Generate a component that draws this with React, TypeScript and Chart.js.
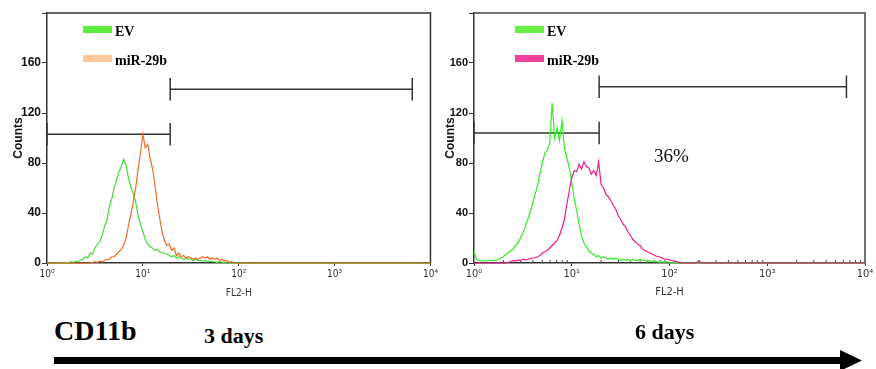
import React, { useEffect, useRef } from 'react';
import { Chart, registerables } from 'chart.js';
Chart.register(...registerables);

// FL2-H channel positions, in decades (log10 of fluorescence)
const channelLog = [
  0, 0.025, 0.05, 0.075, 0.1, 0.125, 0.15, 0.175, 0.2, 0.225,
  0.25, 0.275, 0.3, 0.325, 0.35, 0.375, 0.4, 0.425, 0.45, 0.475,
  0.5, 0.525, 0.55, 0.575, 0.6, 0.625, 0.65, 0.675, 0.7, 0.725,
  0.75, 0.775, 0.8, 0.825, 0.85, 0.875, 0.9, 0.925, 0.95, 0.975,
  1.0, 1.025, 1.05, 1.075, 1.1, 1.125, 1.15, 1.175, 1.2, 1.225,
  1.25, 1.275, 1.3, 1.325, 1.35, 1.375, 1.4, 1.425, 1.45, 1.475,
  1.5, 1.525, 1.55, 1.575, 1.6, 1.625, 1.65, 1.675, 1.7, 1.725,
  1.75, 1.775, 1.8, 1.825, 1.85, 1.875, 1.9, 1.925, 1.95, 1.975,
  2.0, 2.025, 2.05, 2.075, 2.1, 2.125, 2.15, 2.175, 2.2, 2.225,
  2.25, 2.275, 2.3, 2.325, 2.35, 2.375, 2.4, 2.425, 2.45, 2.475,
  2.5, 4.0,
];

const ev3Days = [
  0, 0, 0, 0, 0, 0, 0.5, 0, 0.5, 0,
  1, 0.5, 1.5, 1, 2.5, 3, 5, 4, 8, 7,
  12, 15, 17, 22, 29, 34, 45, 51, 60, 66,
  73, 77, 83, 78, 68, 61, 55, 49, 38, 31,
  25, 19, 15, 13, 12, 10, 11, 9, 8, 8,
  7, 6, 5, 6, 4, 5, 4, 3, 4, 3,
  3, 2, 3, 2, 2, 1.5, 2, 1, 1.5, 1,
  1, 0.5, 1, 0.5, 0.5, 0, 0, 0, 0, 0,
  0, 0, 0, 0, 0, 0, 0, 0, 0, 0,
  0, 0, 0, 0, 0, 0, 0, 0, 0, 0,
  0, 0,
];

const mir3Days = [
  0, 0, 0, 0, 0, 0, 0, 0, 0, 0,
  0, 0, 0, 0, 0, 0, 0, 0, 0, 0.5,
  1, 0.5, 1.5, 1, 2, 3, 3, 5, 5, 7,
  9, 11, 14, 20, 30, 39, 49, 60, 75, 88,
  103, 92, 95, 84, 76, 63, 48, 36, 25, 18,
  14, 15, 10, 12, 6, 8, 5, 6, 4, 5,
  4, 3, 4, 3, 4, 5, 4, 5, 3, 4,
  3, 4, 2, 3, 1.5, 2, 0.5, 1, 0, 0,
  0, 0, 0.5, 0, 0, 0, 0, 0, 0, 0,
  0, 0, 0, 0, 0, 0, 0, 0, 0, 0,
  0, 0,
];

const ev6Days = [
  9, 3, 2, 1.5, 2, 1.5, 2, 2, 2.5, 2,
  3, 4, 5, 7, 8, 10, 11, 14, 16, 20,
  24, 29, 35, 41, 48, 55, 62, 72, 80, 88,
  90, 96, 128, 100, 108, 98, 114, 92, 84, 76,
  64, 52, 42, 31, 22, 16, 13, 10, 8, 7,
  5, 6, 4, 5, 4, 3, 4, 3, 4, 3,
  2, 3, 2, 3, 2, 3, 2, 2, 3, 2,
  2, 1, 2, 1, 1, 1, 0.5, 1, 0.5, 1,
  0.5, 0, 0.5, 0, 0, 0, 0, 0, 0, 0,
  0, 0, 0, 0, 0, 0, 0, 0, 0, 0,
  0, 0,
];

const mir6Days = [
  0, 0, 0, 0, 0, 0, 0, 0, 0, 0,
  0, 0, 0, 0, 0.5, 1, 2, 1.5, 2.5, 2,
  3, 2.5, 3, 3.5, 4, 4, 5, 6, 8, 9,
  10, 12, 14, 16, 18, 22, 28, 35, 47, 58,
  68, 74, 73, 79, 75, 81, 77, 76, 71, 74,
  70, 81, 63, 60, 55, 53, 50, 46, 43, 38,
  35, 31, 29, 25, 22, 19, 17, 15, 14, 11,
  10, 9, 8, 7, 6, 5, 5, 4, 3, 3,
  2.5, 2, 1.5, 1, 0.5, 0, 0, 0, 0, 0,
  0, 0, 1.5, 0, 0, 0, 0, 0, 0, 0,
  0, 0,
];

const decadeTicks = [0, 1, 2, 3, 4];
const decadeLabels = ['10⁰', '10¹', '10²', '10³', '10⁴'];
const countTicks = [0, 40, 80, 120, 160, 200];

// gates: [from decade, to decade, count level]
const gates3Days = [
  [0, 1.285, 103],
  [1.285, 3.81, 139],
];
const gates6Days = [
  [0, 1.28, 104],
  [1.28, 3.81, 141],
];

const framePlugin = {
  id: 'frame',
  beforeDatasetsDraw(chart: any, _a: any, opts: any) {
    const { ctx, chartArea } = chart;
    const { left, right, top, bottom } = chartArea;
    ctx.save();
    ctx.strokeStyle = opts.color || '#333';
    ctx.lineWidth = opts.width || 1.5;
    ctx.beginPath();
    ctx.moveTo(left, top);
    ctx.lineTo(right, top);
    ctx.lineTo(right, bottom);
    ctx.stroke();
    // minor log ticks on the bottom axis
    if (opts.minor) {
      const xs = chart.scales.x;
      ctx.lineWidth = 1;
      ctx.beginPath();
      for (let d = 0; d < 4; d++) {
        for (let k = 2; k <= 9; k++) {
          const px = xs.getPixelForValue(d + Math.log10(k));
          ctx.moveTo(px, bottom);
          ctx.lineTo(px, bottom - 3);
        }
      }
      ctx.stroke();
    }
    ctx.restore();
  },
};

const gatePlugin = {
  id: 'gates',
  beforeDatasetsDraw(chart: any, _a: any, opts: any) {
    const items = opts.items || [];
    const xs = chart.scales.x;
    const ys = chart.scales.y;
    const { ctx } = chart;
    ctx.save();
    ctx.strokeStyle = opts.color || '#333';
    ctx.lineWidth = opts.width || 1.5;
    for (const [from, to, level] of items) {
      const x1 = xs.getPixelForValue(from);
      const x2 = xs.getPixelForValue(to);
      const py = ys.getPixelForValue(level);
      const c1 = ys.getPixelForValue(level - 9);
      const c2 = ys.getPixelForValue(level + 9);
      ctx.beginPath();
      ctx.moveTo(x1, py);
      ctx.lineTo(x2, py);
      ctx.moveTo(x1, c1);
      ctx.lineTo(x1, c2);
      ctx.moveTo(x2, c1);
      ctx.lineTo(x2, c2);
      ctx.stroke();
    }
    ctx.restore();
  },
};

type PanelProps = {
  left: number;
  yAxisWidth: number;
  padRight: number;
  countsPad: number;
  yTickSize: number;
  xTickSize: number;
  ev: number[];
  mir: number[];
  evColor: string;
  mirColor: string;
  gates: number[][];
  minor: boolean;
  frameColor: string;
};

function Panel(p: PanelProps) {
  const ref = useRef<HTMLCanvasElement>(null);
  useEffect(() => {
    if (!ref.current) return;
    const axisColor = '#333';
    const chart = new Chart(ref.current, {
      type: 'line',
      data: {
        datasets: [
          {
            label: 'miR-29b',
            data: channelLog.map((x, i) => ({ x, y: p.mir[i] })),
            borderColor: p.mirColor,
            borderWidth: 1.2,
            pointRadius: 0,
            tension: 0,
            fill: false,
            clip: 4,
          },
          {
            label: 'EV',
            data: channelLog.map((x, i) => ({ x, y: p.ev[i] })),
            borderColor: p.evColor,
            borderWidth: 1.2,
            pointRadius: 0,
            tension: 0,
            fill: false,
            clip: 4,
          },
        ],
      },
      options: {
        animation: false,
        responsive: false,
        devicePixelRatio: 1,
        layout: { padding: { top: 13, right: p.padRight, left: 0, bottom: 0 } },
        plugins: {
          legend: { display: false },
          tooltip: { enabled: false },
          frame: { color: p.frameColor, width: 1.5, minor: p.minor },
          gates: { items: p.gates, color: '#333', width: 1.5 },
        } as any,
        scales: {
          x: {
            type: 'linear',
            min: 0,
            max: 4,
            afterBuildTicks: (s: any) => {
              s.ticks = decadeTicks.map((v) => ({ value: v }));
            },
            afterFit: (s: any) => {
              s.height = 37;
            },
            ticks: {
              callback: (v: any) => {
                const i = decadeTicks.indexOf(Number(v));
                return i >= 0 ? decadeLabels[i] : '';
              },
              autoSkip: false,
              maxRotation: 0,
              padding: 2,
              color: '#333',
              font: { family: "'Liberation Sans Narrow', 'DejaVu Sans Condensed', sans-serif", size: p.xTickSize },
            },
            grid: { drawOnChartArea: false, drawTicks: true, tickLength: 3, color: axisColor },
            border: { display: true, color: axisColor, width: 1.5 },
            title: {
              display: true,
              text: 'FL2-H',
              color: '#333',
              padding: { top: 0, bottom: 1 },
              font: { family: "'Liberation Sans Narrow', 'DejaVu Sans Condensed', sans-serif", size: p.xTickSize },
            },
          },
          y: {
            type: 'linear',
            min: 0,
            max: 200,
            afterBuildTicks: (s: any) => {
              s.ticks = countTicks.map((v) => ({ value: v }));
            },
            afterFit: (s: any) => {
              s.width = p.yAxisWidth;
            },
            ticks: {
              callback: (v: any) => (Number(v) === 200 ? '' : String(v)),
              padding: 1,
              color: '#111',
              font: { family: "'Liberation Sans', Arial, sans-serif", size: p.yTickSize, weight: 'bold' },
            },
            grid: { drawOnChartArea: false, drawTicks: true, tickLength: 5, color: axisColor },
            border: { display: true, color: axisColor, width: 1.5 },
            title: {
              display: true,
              text: 'Counts',
              color: '#111',
              padding: { top: p.countsPad, bottom: 0 },
              font: { family: "'Liberation Sans', Arial, sans-serif", size: 12, weight: 'bold' },
            },
          },
        },
      },
      plugins: [framePlugin, gatePlugin],
    } as any);
    return () => chart.destroy();
  }, []);
  return (
    <canvas
      ref={ref}
      width={440}
      height={300}
      style={{ position: 'absolute', left: p.left, top: 0, width: 440, height: 300 }}
    />
  );
}

const serif = "'Liberation Serif', 'Times New Roman', serif";

function LegendItem({ x, y, color, text }: { x: number; y: number; color: string; text: string }) {
  return (
    <>
      <div style={{ position: 'absolute', left: x, top: y, width: 29, height: 7, background: color }} />
      <div
        style={{
          position: 'absolute',
          left: x + 32,
          top: y - 1,
          fontFamily: serif,
          fontWeight: 'bold',
          fontSize: 14,
          lineHeight: 1,
          color: '#000',
          whiteSpace: 'nowrap',
        }}
      >
        {text}
      </div>
    </>
  );
}

export default function App() {
  return (
    <div
      style={{
        position: 'absolute',
        left: 0,
        top: 0,
        width: 876,
        height: 369,
        background: '#fff',
        overflow: 'hidden',
      }}
    >
      <Panel
        left={0}
        yAxisWidth={47}
        padRight={7}
        countsPad={11}
        yTickSize={12}
        xTickSize={10}
        ev={ev3Days}
        mir={mir3Days}
        evColor="#44dd3a"
        mirColor="#ee6a22"
        gates={gates3Days}
        minor={false}
        frameColor="#333"
      />
      <Panel
        left={436}
        yAxisWidth={38}
        padRight={11}
        countsPad={7}
        yTickSize={11}
        xTickSize={11}
        ev={ev6Days}
        mir={mir6Days}
        evColor="#33ee22"
        mirColor="#ee1a8c"
        gates={gates6Days}
        minor={true}
        frameColor="#444"
      />
      <LegendItem x={83} y={26} color="#5ded3f" text="EV" />
      <LegendItem x={83} y={55} color="#fcc89c" text="miR-29b" />
      <LegendItem x={515} y={26} color="#66ee44" text="EV" />
      <LegendItem x={515} y={55} color="#f0409a" text="miR-29b" />
      <div
        style={{
          position: 'absolute',
          left: 654,
          top: 146,
          fontFamily: serif,
          fontSize: 19,
          lineHeight: 1,
          color: '#111',
        }}
      >
        36%
      </div>
      <div
        style={{
          position: 'absolute',
          left: 54,
          top: 317,
          fontFamily: serif,
          fontWeight: 'bold',
          fontSize: 28,
          lineHeight: 1,
          color: '#000',
        }}
      >
        CD11b
      </div>
      <div
        style={{
          position: 'absolute',
          left: 204,
          top: 325,
          fontFamily: serif,
          fontWeight: 'bold',
          fontSize: 22,
          lineHeight: 1,
          color: '#000',
          whiteSpace: 'nowrap',
        }}
      >
        3 days
      </div>
      <div
        style={{
          position: 'absolute',
          left: 635,
          top: 321,
          fontFamily: serif,
          fontWeight: 'bold',
          fontSize: 22,
          lineHeight: 1,
          color: '#000',
          whiteSpace: 'nowrap',
        }}
      >
        6 days
      </div>
      <svg
        width={876}
        height={369}
        style={{ position: 'absolute', left: 0, top: 0, pointerEvents: 'none' }}
      >
        <rect x={54} y={357} width={790} height={7} fill="#000" />
        <polygon points="840,350 862,360.5 840,371" fill="#000" />
      </svg>
    </div>
  );
}
